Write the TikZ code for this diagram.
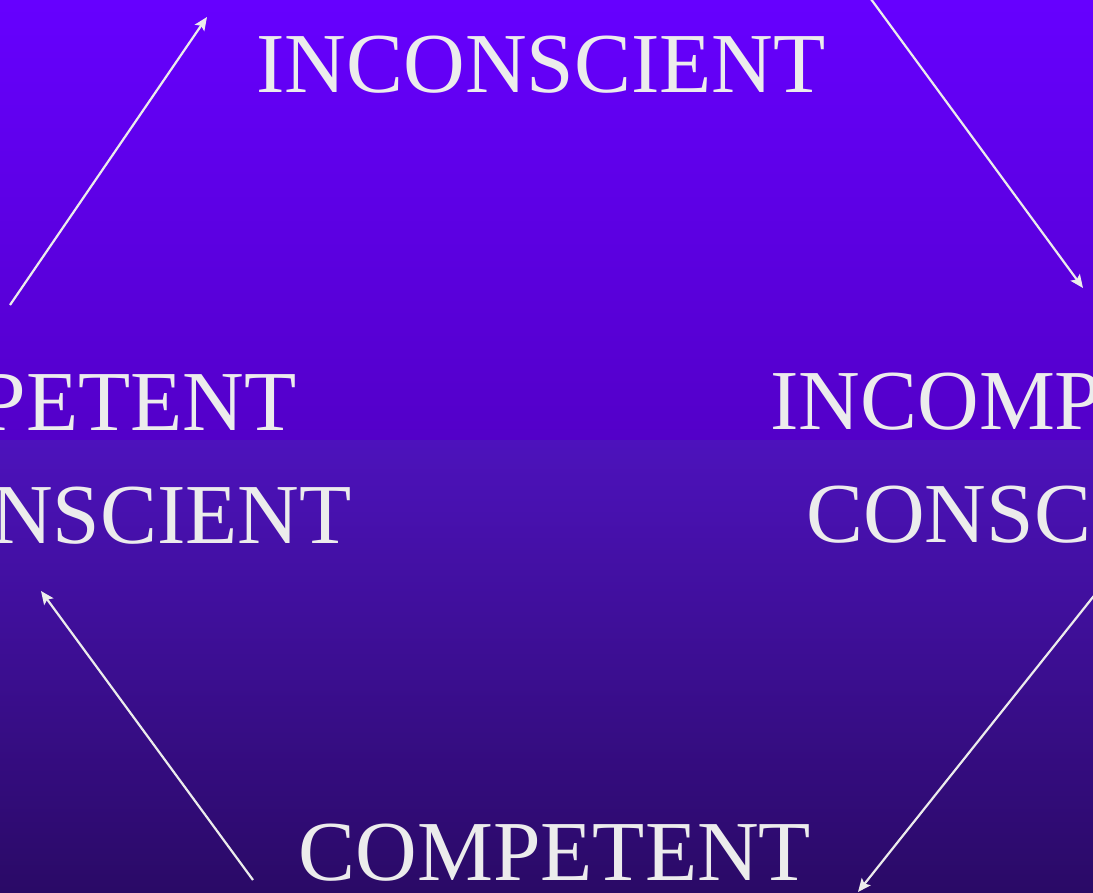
\documentclass[tikz,border=0pt]{standalone}
\usepackage{fontspec}
\setmainfont{Liberation Serif}
\usetikzlibrary{arrows.meta}
\definecolor{bgtop}{HTML}{6600FF}
\definecolor{bgmida}{HTML}{5300C8}
\definecolor{bgmidb}{HTML}{4D12BC}
\definecolor{bgbot}{HTML}{2A0A66}
\definecolor{wordgrey}{HTML}{ECECEC}

\begin{document}
\begin{tikzpicture}[x=0.02cm,y=-0.02cm,
	word/.style={text=wordgrey,font=\fontsize{48.6}{58}\selectfont,inner sep=0pt},
	cyc/.style={draw=wordgrey,line width=1.25pt,-{Stealth[length=7.5pt,width=6.5pt,inset=1.5pt]}}]
	\useasboundingbox (0,0) rectangle (1093,893);
	\clip (0,0) rectangle (1093,893);
	\shade[top color=bgtop,bottom color=bgmida] (0,0) rectangle (1093,440);
	\shade[top color=bgmidb,bottom color=bgbot] (0,440) rectangle (1093,893);
	
	\node[word,anchor=base] (topw) at (541,92) {INCONSCIENT};
	\node[word,anchor=base west] (rightup) at (770,429) {INCOMPETENT};
	\node[word,anchor=base west] (rightlo) at (806,542) {CONSCIENT};
	\node[word,anchor=base] (botw) at (555,880) {COMPETENT};
	\node[word,anchor=base east] (leftup) at (297,430) {COMPETENT};
	\node[word,anchor=base east] (leftlo) at (352,543) {INCONSCIENT};
	
	\coordinate (a1) at (10,305);
	\coordinate (b1) at (207,17);
	\coordinate (a2) at (868,-5);
	\coordinate (b2) at (1083,288);
	\coordinate (a3) at (1097,592);
	\coordinate (b3) at (858,892);
	\coordinate (a4) at (253,880);
	\coordinate (b4) at (41,591);
	
	\draw[cyc] (a1) -- (b1);
	\draw[cyc] (a2) -- (b2);
	\draw[cyc] (a3) -- (b3);
	\draw[cyc] (a4) -- (b4);
\end{tikzpicture}
\end{document}
